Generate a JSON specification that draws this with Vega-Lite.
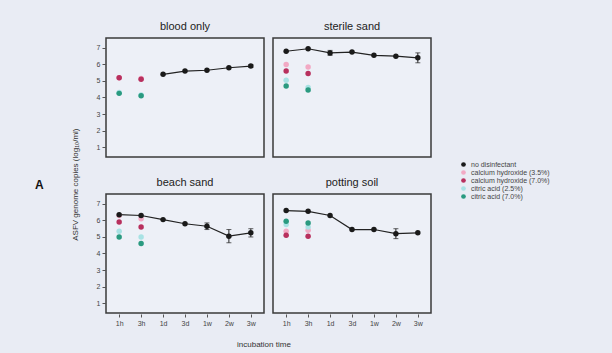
{
  "$schema": "https://vega.github.io/schema/vega-lite/v6.json",
  "background": "#e9ecf4",
  "padding": {"left": 35, "top": 20, "right": 65, "bottom": 4},
  "title": {"text": "A", "orient": "left", "angle": 0, "anchor": "middle", "fontSize": 12, "fontWeight": "bold", "font": "Liberation Sans", "color": "#111", "offset": 24, "dy": -5},
  "config": {
    "font": "Liberation Sans",
    "view": {"stroke": "#3a3a3a", "strokeWidth": 1.5, "fill": "#edf0f7"},
    "axis": {"domain": false, "grid": false, "tickColor": "#555", "tickSize": 3, "labelFontSize": 7, "labelColor": "#444", "title": null, "labelPadding": 2},
    "legend": {"labelFontSize": 7, "labelColor": "#444", "symbolSize": 22, "rowPadding": 0, "title": null}
  },
  "datasets": {
    "d": [
      {"panel": "blood only", "time": "1d", "group": "no disinfectant", "value": 5.4},
      {"panel": "blood only", "time": "3d", "group": "no disinfectant", "value": 5.6},
      {"panel": "blood only", "time": "1w", "group": "no disinfectant", "value": 5.65},
      {"panel": "blood only", "time": "2w", "group": "no disinfectant", "value": 5.8},
      {"panel": "blood only", "time": "3w", "group": "no disinfectant", "value": 5.9, "lo": 5.82, "hi": 5.98},
      {"panel": "blood only", "time": "1h", "group": "calcium hydroxide (3.5%)", "value": 5.2},
      {"panel": "blood only", "time": "3h", "group": "calcium hydroxide (3.5%)", "value": 5.15},
      {"panel": "blood only", "time": "1h", "group": "calcium hydroxide (7.0%)", "value": 5.2},
      {"panel": "blood only", "time": "3h", "group": "calcium hydroxide (7.0%)", "value": 5.1},
      {"panel": "blood only", "time": "1h", "group": "citric acid (2.5%)", "value": 4.3},
      {"panel": "blood only", "time": "3h", "group": "citric acid (2.5%)", "value": 4.15},
      {"panel": "blood only", "time": "1h", "group": "citric acid (7.0%)", "value": 4.25},
      {"panel": "blood only", "time": "3h", "group": "citric acid (7.0%)", "value": 4.1},

      {"panel": "sterile sand", "time": "1h", "group": "no disinfectant", "value": 6.8},
      {"panel": "sterile sand", "time": "3h", "group": "no disinfectant", "value": 6.95},
      {"panel": "sterile sand", "time": "1d", "group": "no disinfectant", "value": 6.7, "lo": 6.55, "hi": 6.85},
      {"panel": "sterile sand", "time": "3d", "group": "no disinfectant", "value": 6.75},
      {"panel": "sterile sand", "time": "1w", "group": "no disinfectant", "value": 6.55},
      {"panel": "sterile sand", "time": "2w", "group": "no disinfectant", "value": 6.5},
      {"panel": "sterile sand", "time": "3w", "group": "no disinfectant", "value": 6.4, "lo": 6.1, "hi": 6.7},
      {"panel": "sterile sand", "time": "1h", "group": "calcium hydroxide (3.5%)", "value": 6.0},
      {"panel": "sterile sand", "time": "3h", "group": "calcium hydroxide (3.5%)", "value": 5.85},
      {"panel": "sterile sand", "time": "1h", "group": "calcium hydroxide (7.0%)", "value": 5.6},
      {"panel": "sterile sand", "time": "3h", "group": "calcium hydroxide (7.0%)", "value": 5.45},
      {"panel": "sterile sand", "time": "1h", "group": "citric acid (2.5%)", "value": 5.05},
      {"panel": "sterile sand", "time": "3h", "group": "citric acid (2.5%)", "value": 4.6},
      {"panel": "sterile sand", "time": "1h", "group": "citric acid (7.0%)", "value": 4.7},
      {"panel": "sterile sand", "time": "3h", "group": "citric acid (7.0%)", "value": 4.45},

      {"panel": "beach sand", "time": "1h", "group": "no disinfectant", "value": 6.35},
      {"panel": "beach sand", "time": "3h", "group": "no disinfectant", "value": 6.3},
      {"panel": "beach sand", "time": "1d", "group": "no disinfectant", "value": 6.05},
      {"panel": "beach sand", "time": "3d", "group": "no disinfectant", "value": 5.8},
      {"panel": "beach sand", "time": "1w", "group": "no disinfectant", "value": 5.65, "lo": 5.45, "hi": 5.85},
      {"panel": "beach sand", "time": "2w", "group": "no disinfectant", "value": 5.05, "lo": 4.65, "hi": 5.45},
      {"panel": "beach sand", "time": "3w", "group": "no disinfectant", "value": 5.25, "lo": 5.0, "hi": 5.5},
      {"panel": "beach sand", "time": "1h", "group": "calcium hydroxide (3.5%)", "value": 6.3},
      {"panel": "beach sand", "time": "3h", "group": "calcium hydroxide (3.5%)", "value": 6.1},
      {"panel": "beach sand", "time": "1h", "group": "calcium hydroxide (7.0%)", "value": 5.9},
      {"panel": "beach sand", "time": "3h", "group": "calcium hydroxide (7.0%)", "value": 5.6},
      {"panel": "beach sand", "time": "1h", "group": "citric acid (2.5%)", "value": 5.35},
      {"panel": "beach sand", "time": "3h", "group": "citric acid (2.5%)", "value": 5.0},
      {"panel": "beach sand", "time": "1h", "group": "citric acid (7.0%)", "value": 5.0},
      {"panel": "beach sand", "time": "3h", "group": "citric acid (7.0%)", "value": 4.6},

      {"panel": "potting soil", "time": "1h", "group": "no disinfectant", "value": 6.6},
      {"panel": "potting soil", "time": "3h", "group": "no disinfectant", "value": 6.55},
      {"panel": "potting soil", "time": "1d", "group": "no disinfectant", "value": 6.3},
      {"panel": "potting soil", "time": "3d", "group": "no disinfectant", "value": 5.45},
      {"panel": "potting soil", "time": "1w", "group": "no disinfectant", "value": 5.45},
      {"panel": "potting soil", "time": "2w", "group": "no disinfectant", "value": 5.2, "lo": 4.9, "hi": 5.5},
      {"panel": "potting soil", "time": "3w", "group": "no disinfectant", "value": 5.25},
      {"panel": "potting soil", "time": "1h", "group": "calcium hydroxide (3.5%)", "value": 5.35},
      {"panel": "potting soil", "time": "3h", "group": "calcium hydroxide (3.5%)", "value": 5.4},
      {"panel": "potting soil", "time": "1h", "group": "calcium hydroxide (7.0%)", "value": 5.1},
      {"panel": "potting soil", "time": "3h", "group": "calcium hydroxide (7.0%)", "value": 5.05},
      {"panel": "potting soil", "time": "1h", "group": "citric acid (2.5%)", "value": 5.75},
      {"panel": "potting soil", "time": "3h", "group": "citric acid (2.5%)", "value": 5.6},
      {"panel": "potting soil", "time": "1h", "group": "citric acid (7.0%)", "value": 5.95},
      {"panel": "potting soil", "time": "3h", "group": "citric acid (7.0%)", "value": 5.85}
    ]
  },
  "vconcat": [
    {
      "title": {"text": "ASFV genome copies (log₁₀/ml)", "orient": "left", "anchor": "middle", "fontSize": 8, "fontWeight": "normal", "color": "#333", "offset": 16},
      "vconcat": [
        {
          "title": {"text": "incubation time", "orient": "bottom", "anchor": "middle", "fontSize": 8, "fontWeight": "normal", "color": "#333", "offset": 15},
          "data": {"name": "d"},
          "columns": 2,
          "spacing": {"column": 7, "row": 18},
          "facet": {
            "field": "panel",
            "type": "nominal",
            "sort": ["blood only", "sterile sand", "beach sand", "potting soil"],
            "header": {"title": null, "labelFontSize": 11, "labelColor": "#222", "labelPadding": 6}
          },
          "spec": {
            "width": 158,
            "height": 119,
            "encoding": {
              "x": {"field": "time", "type": "ordinal", "title": null, "sort": ["1h", "3h", "1d", "3d", "1w", "2w", "3w"], "scale": {"type": "point", "padding": 0.6}, "axis": {"labelAngle": 0}},
              "y": {"field": "value", "type": "quantitative", "title": null, "scale": {"domain": [0.4, 7.6], "nice": false, "zero": false}, "axis": {"values": [1, 2, 3, 4, 5, 6, 7]}}
            },
            "layer": [
              {
                "transform": [{"filter": "datum.group === 'no disinfectant'"}],
                "mark": {"type": "line", "color": "#222", "strokeWidth": 1.2}
              },
              {
                "transform": [{"filter": "datum.group === 'no disinfectant' && isValid(datum.lo)"}],
                "mark": {"type": "errorbar", "ticks": {"size": 5, "color": "#222"}, "rule": {"color": "#222"}},
                "encoding": {"y": {"field": "lo", "type": "quantitative", "title": null}, "y2": {"field": "hi"}}
              },
              {
                "mark": {"type": "point", "filled": true, "opacity": 1, "size": 30},
                "encoding": {
                  "color": {
                    "field": "group", "type": "nominal",
                    "scale": {"domain": ["no disinfectant", "calcium hydroxide (3.5%)", "calcium hydroxide (7.0%)", "citric acid (2.5%)", "citric acid (7.0%)"], "range": ["#1a1a1a", "#f2a9c4", "#b8305e", "#a8e2e4", "#2a9a80"]},
                    "legend": {"orient": "none", "legendX": 354, "legendY": 123}
                  },
                  "order": {"field": "group", "sort": "ascending"}
                }
              }
            ]
          }
        }
      ]
    }
  ]
}
